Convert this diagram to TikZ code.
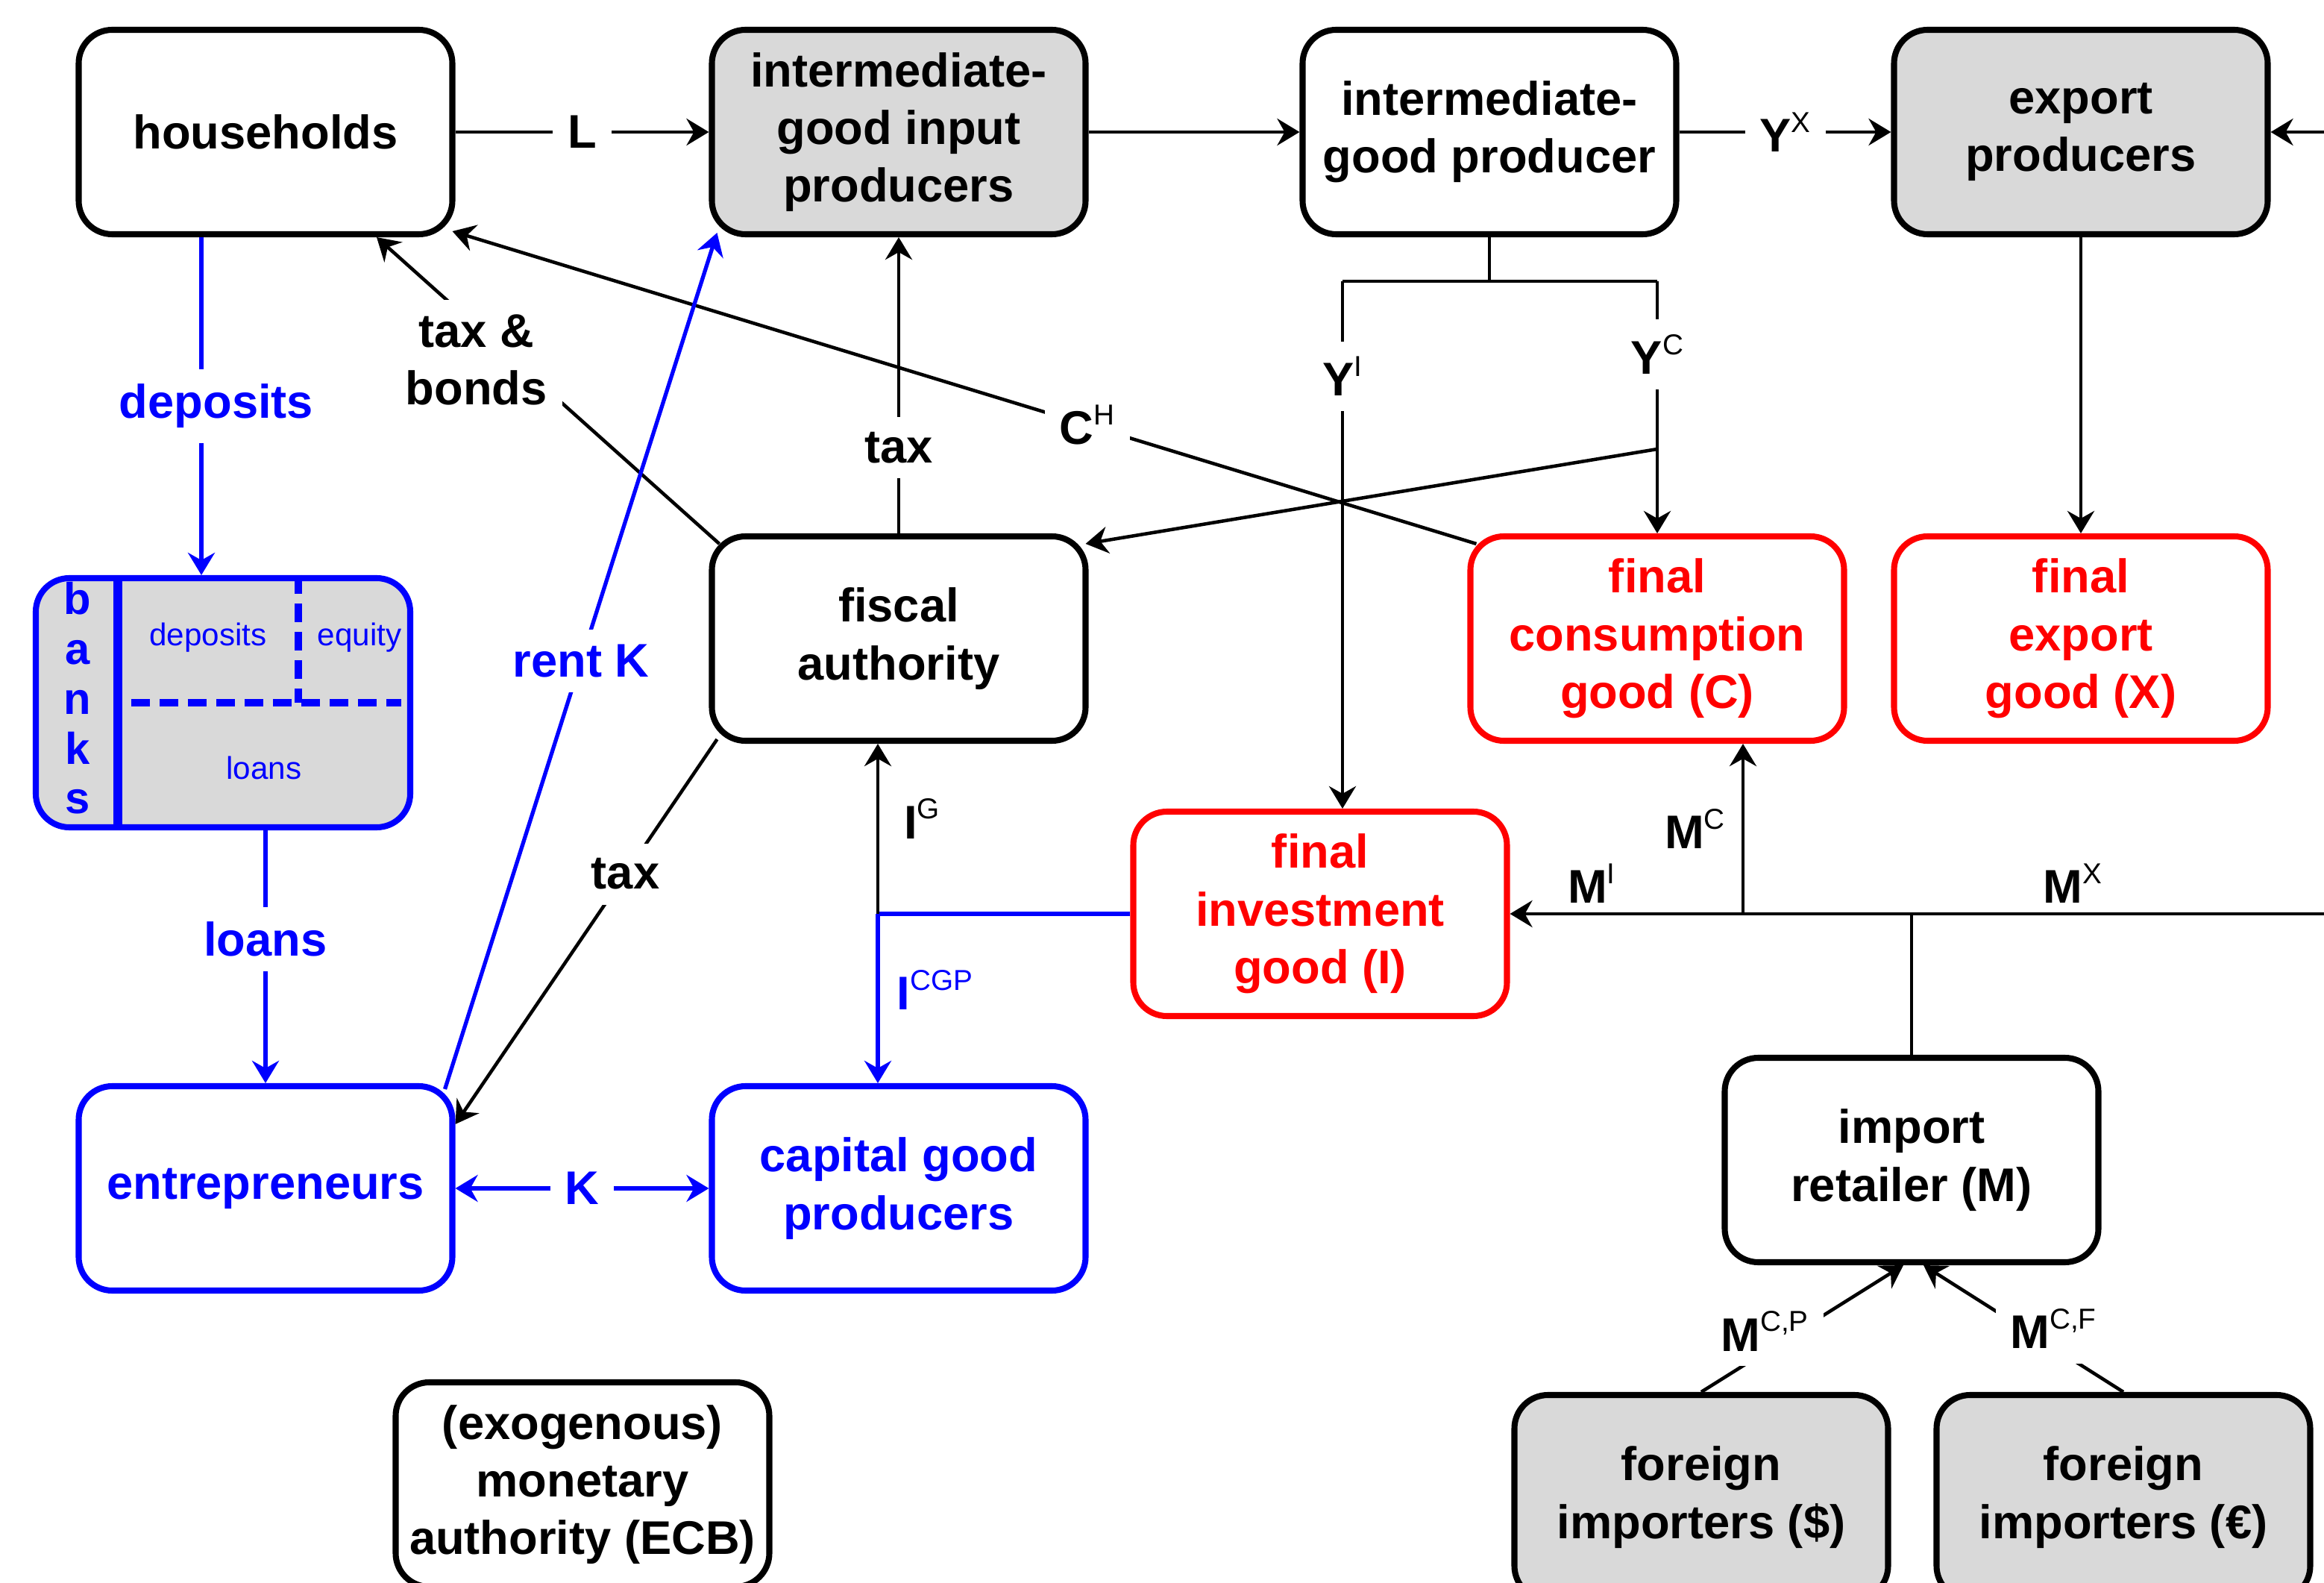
\documentclass[tikz,border=0pt]{standalone}
\usepackage{fontspec}
\setmainfont{Liberation Sans}
\usetikzlibrary{arrows.meta,positioning}
\definecolor{boxgray}{HTML}{D9D9D9}
\newcommand{\upind}[1]{\raisebox{7.5pt}{\fontsize{11}{11}\selectfont\mdseries #1}}

\begin{document}
\begin{tikzpicture}[
    >={Stealth[length=3mm,width=3.6mm,inset=1mm]},
    box/.style={draw, rounded corners=0.45cm, line width=2.3pt, minimum width=5.01cm, minimum height=2.74cm,
        align=center, inner sep=0pt, font=\bfseries\fontsize{18}{22}\selectfont},
    greybox/.style={box, fill=boxgray},
    finbox/.style={box, draw=red, text=red},
    bluebox/.style={box, draw=blue, text=blue},
    flow/.style={line width=1.3pt},
    blueflow/.style={line width=1.5pt, blue},
    lbl/.style={fill=white, inner sep=0.2cm, align=center, font=\bfseries\fontsize{18}{22}\selectfont},
    sidelbl/.style={inner sep=0pt, font=\bfseries\fontsize{18}{22}\selectfont},
    smalltxt/.style={text=blue, inner sep=0pt, font=\fontsize{12}{14}\selectfont}
]
\useasboundingbox (0,0) rectangle (31.16,-21.22);

\node[box] (hh) at (3.56,-1.77) {households};
\node[greybox] (igi) at (12.05,-1.77) {intermediate-\\good input\\producers};
\node[box] (igp) at (19.97,-1.77) {intermediate-\\good producer};
\node[greybox] (exp) at (27.90,-1.77) {export\\producers};

\node[box, draw=blue, fill=boxgray, minimum width=5.02cm, minimum height=3.34cm] (banks) at (2.99,-9.42) {};
\node[box] (fisc) at (12.05,-8.56) {fiscal\\authority};
\node[finbox] (fcons) at (22.22,-8.56) {final\\consumption\\good (C)};
\node[finbox] (fexp) at (27.90,-8.56) {final\\export\\good (X)};
\node[finbox] (finv) at (17.70,-12.25) {final\\investment\\good (I)};

\node[bluebox] (entr) at (3.56,-15.93) {entrepreneurs};
\node[bluebox] (cgp) at (12.05,-15.93) {capital good\\producers};
\node[box] (impret) at (25.63,-15.55) {import\\retailer (M)};

\node[box] (ecb) at (7.81,-19.90) {(exogenous)\\monetary\\authority (ECB)};
\node[greybox] (for1) at (22.81,-20.07) {foreign\\importers (\$)};
\node[greybox] (for2) at (28.47,-20.07) {foreign\\importers (€)};

% inside the banks box
\draw[blue, line width=3.2pt] ([xshift=1.14cm]banks.north west) -- ([xshift=1.14cm]banks.south west);
\draw[blue, line width=3pt, dash pattern=on 0.25cm off 0.13cm] ([xshift=1.32cm]banks.west) -- ([xshift=-0.16cm]banks.east);
\draw[blue, line width=3pt, dash pattern=on 0.25cm off 0.13cm] ([xshift=1.01cm]banks.north) -- ([xshift=1.01cm]banks.center);
\node[text=blue, align=center, inner sep=0pt, font=\bfseries\fontsize{17}{19}\selectfont] (bk) at (1.04,-9.36) {b\\a\\n\\k\\s};
\node[smalltxt] (bdep) at (2.79,-8.55) {deposits};
\node[smalltxt] (beq) at (4.82,-8.55) {equity};
\node[smalltxt] (bln) at (3.54,-10.29) {loans};

\coordinate (rin) at (31.16,-1.77);
\coordinate (ysp) at (19.97,-3.77);
\coordinate (yil) at (18.00,-3.77);
\coordinate (ycr) at (22.22,-3.77);
\coordinate (ycb) at (22.22,-6.02);
\coordinate (hdep) at ([xshift=-0.86cm]hh.south);
\coordinate (ijn) at (11.77,-12.25);
\coordinate (mrt) at (31.16,-12.25);
\coordinate (mrj) at (25.63,-12.25);
\coordinate (mcj) at (23.37,-12.25);

\draw[flow,->] (hh) -- node[lbl] {L} (igi);
\draw[flow,->] (igi) -- (igp);
\draw[flow,->] (igp) -- node[lbl] {Y\upind{X}} (exp);
\draw[flow,->] (rin) -- (exp);
\draw[flow,->] (exp) -- (fexp);

\draw[flow] (igp) -- (ysp);
\draw[flow] (yil) -- (ycr);
\draw[flow,->] (yil) -- node[lbl,pos=0.18] {Y\upind{I}} (yil |- finv.north);
\draw[flow,->] (ycr) -- node[lbl,pos=0.29] {Y\upind{C}} (fcons);
\draw[flow,->] (ycb) -- ([shift={(-0.04,-0.14)}]fisc.north east);

\draw[flow,->] ([shift={(0.12,-0.14)}]fcons.north west) -- node[lbl,pos=0.38] {C\upind{H}} ([shift={(-0.04,0.08)}]hh.south east);
\draw[flow,->] ([shift={(0.14,-0.14)}]fisc.north west) -- node[lbl,pos=0.6,xshift=-0.5cm] {tax \&\\bonds} ([xshift=1.49cm]hh.south);
\draw[flow,->] (fisc) -- node[lbl,pos=0.29] {tax} (igi);
\draw[flow,->] ([shift={(0.11,0.06)}]fisc.south west) -- node[lbl,pos=0.35] {tax} ([yshift=-0.55cm]entr.north east);

\draw[blueflow,->] ([shift={(-0.14,-0.08)}]entr.north east) -- node[lbl,text=blue] {rent K} ([shift={(0.11,0.06)}]igi.south west);
\draw[blueflow,->] (hdep) -- node[lbl,text=blue,xshift=0.2cm] {deposits} (hdep |- banks.north);
\draw[blueflow,->] (entr.north |- banks.south) -- node[lbl,text=blue,pos=0.43] {loans} (entr);
\draw[blueflow,<->] (entr) -- node[lbl,text=blue] {K} (cgp);

\draw[blueflow] (finv) -- (ijn);
\draw[flow,->] (ijn) -- node[sidelbl,right=0.33cm,pos=0.56] {I\upind{G}} (ijn |- fisc.south);
\draw[blueflow,->] (ijn) -- node[sidelbl,text=blue,right=0.23cm,pos=0.45] {I\upind{CGP}} (ijn |- cgp.north);

\draw[flow] (mrt) -- node[sidelbl,above=0.12cm,pos=0.61] {M\upind{X}} (mrj);
\draw[flow] (mrj) -- (mcj);
\draw[flow,->] (mcj) -- node[sidelbl,above=0.12cm,pos=0.65] {M\upind{I}} (finv);
\draw[flow,->] (mcj) -- node[sidelbl,left=0.22cm] {M\upind{C}} (mcj |- fcons.south);
\draw[flow] (mrj) -- (impret);
\draw[flow,->] (for1.north) -- node[lbl,pos=0.48,xshift=-0.45cm] {M\upind{C,P}} ([xshift=-0.11cm]impret.south);
\draw[flow,->] (for2.north) -- node[lbl,pos=0.5,xshift=0.4cm] {M\upind{C,F}} ([xshift=0.16cm]impret.south);
\end{tikzpicture}
\end{document}
